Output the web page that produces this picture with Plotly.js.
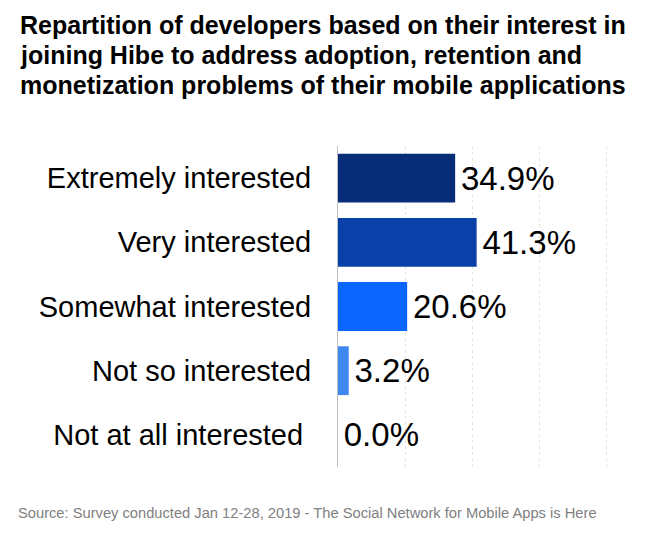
<!DOCTYPE html>
<html>
<head>
<meta charset="utf-8">
<script src="https://cdn.plot.ly/plotly-3.0.1.min.js"></script>
<style>html,body{margin:0;padding:0;background:#fff;}#chart{width:650px;height:534px;}</style>
</head>
<body>
<div id="chart"></div>
<script>
const categories = ["Extremely interested", "Very interested", "Somewhat interested", "Not so interested", "Not at all interested"];
const tickLabels = ["Extremely interested", "Very interested", "Somewhat interested", "Not so interested", "Not at all interested\u00a0"];
const shares = [34.9, 41.3, 20.6, 3.2, 0.0];
const barColors = ["#082d78", "#0a41a9", "#0a66ff", "#3f88f2", "#3f88f2"];
const titleLines = [
  "Repartition of developers based on their interest in",
  "joining Hibe to address adoption, retention and",
  "monetization problems of their mobile applications"
];
const sourceText = "Source: Survey conducted Jan 12-28, 2019 - The Social Network for Mobile Apps is Here";

const FONT = "Liberation Sans, Arial, sans-serif";

const trace = {
  type: "bar",
  orientation: "h",
  y: categories,
  x: shares,
  width: 0.76,
  marker: {color: barColors, line: {width: 0}},
  text: shares.map(v => "\u200a" + v.toFixed(1) + "%"),
  textposition: "outside",
  textfont: {family: FONT, size: 33, color: "#000"},
  cliponaxis: false,
  hoverinfo: "none"
};

const titleAnnotations = titleLines.map((line, i) => ({
  text: "<b>" + line + "</b>",
  xref: "paper", yref: "paper",
  x: -320/282, xanchor: "left",
  y: 1 + (146 - 25 - 30 * i) / 321, yanchor: "middle",
  showarrow: false,
  font: {family: FONT, size: 25, color: "#000"}
}));

const layout = {
  width: 650, height: 534,
  paper_bgcolor: "#fff", plot_bgcolor: "#fff",
  margin: {l: 338, r: 30, t: 146, b: 67, pad: 0},
  showlegend: false,
  xaxis: {
    range: [0, 84], dtick: 20, tick0: 0,
    showticklabels: false, ticks: "",
    showgrid: true, gridcolor: "#e2e2e2", griddash: "3px,3px", gridwidth: 1,
    zeroline: false, showline: false, fixedrange: true
  },
  yaxis: {
    type: "category",
    categoryorder: "array", categoryarray: categories,
    tickvals: categories, ticktext: tickLabels,
    range: [4.5, -0.5],
    showgrid: false, zeroline: false,
    showline: true, linecolor: "#bfbfbf", linewidth: 1,
    ticks: "", ticklen: 0, ticklabelstandoff: 20,
    tickfont: {family: FONT, size: 29, color: "#000"},
    fixedrange: true
  },
  annotations: titleAnnotations.concat([{
    text: sourceText,
    xref: "paper", yref: "paper",
    x: -322/282, xanchor: "left",
    y: -46/321, yanchor: "middle",
    showarrow: false,
    font: {family: FONT, size: 14.7, color: "#808080"}
  }])
};

Plotly.newPlot("chart", [trace], layout, {displayModeBar: false, staticPlot: true});
</script>
</body>
</html>
